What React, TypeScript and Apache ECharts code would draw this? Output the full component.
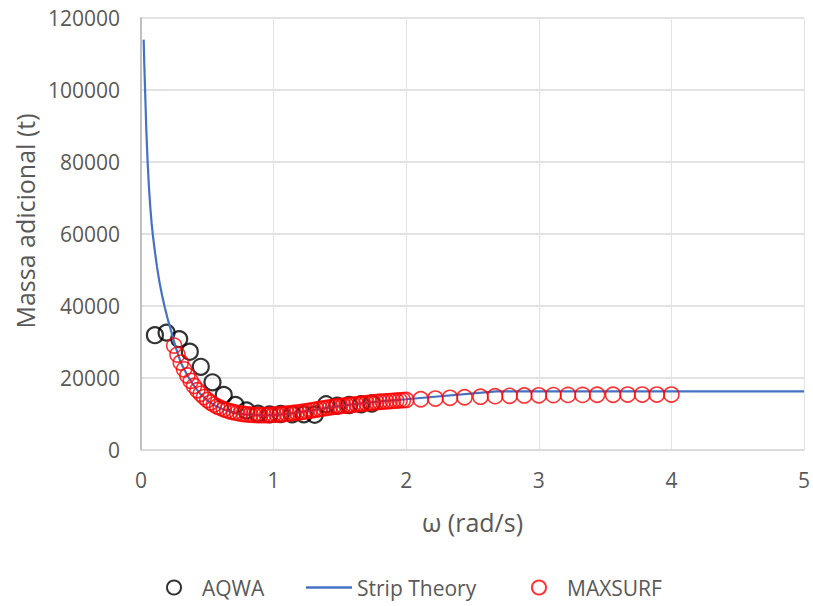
import React, { useEffect, useRef } from "react";
import * as echarts from "echarts";

const aqwaX = [0.105, 0.193, 0.288, 0.368, 0.451, 0.539, 0.624, 0.712, 0.795, 0.882, 0.97, 1.053, 1.14, 1.228, 1.31, 1.396, 1.48, 1.57, 1.66, 1.74];
const aqwaY = [31900, 32600, 30800, 27300, 23100, 18800, 15300, 12500, 11000, 10100, 9900, 10000, 9900, 9900, 9800, 12700, 12300, 12500, 12700, 12900];

const stripX = [0.02, 0.025, 0.03, 0.04, 0.05, 0.06, 0.07, 0.08, 0.09, 0.1, 0.12, 0.14, 0.16, 0.18, 0.2, 0.22, 0.24, 0.26, 0.28, 0.3, 0.35, 0.4, 0.45, 0.5, 0.55, 0.6, 0.65, 0.7, 0.8, 0.9, 1.0, 1.1, 1.2, 1.3, 1.4, 1.5, 1.6, 1.7, 1.8, 1.9, 2.0, 2.68, 5.0];
const stripY = [114000, 107000, 101000, 89000, 80000, 73000, 67500, 63000, 59500, 56500, 51000, 46500, 42800, 39500, 36600, 34000, 31300, 28800, 26500, 24300, 20700, 17800, 15500, 13800, 12500, 11600, 10900, 10400, 9800, 9600, 9700, 10000, 10500, 11100, 11700, 12200, 12700, 13100, 13500, 13800, 14100, 16300, 16300];

const maxsurfX = [
  0.25, 0.275, 0.3, 0.325, 0.35, 0.375, 0.4, 0.425, 0.45, 0.475, 0.5, 0.525, 0.55, 0.575, 0.6, 0.625, 0.65, 0.675, 0.7, 0.725,
  0.75, 0.775, 0.8, 0.825, 0.85, 0.875, 0.9, 0.925, 0.95, 0.975, 1.0, 1.025, 1.05, 1.075, 1.1, 1.125, 1.15, 1.175, 1.2, 1.225,
  1.25, 1.275, 1.3, 1.325, 1.35, 1.375, 1.4, 1.425, 1.45, 1.475, 1.5, 1.525, 1.55, 1.575, 1.6, 1.625, 1.65, 1.675, 1.7, 1.725,
  1.75, 1.775, 1.8, 1.825, 1.85, 1.875, 1.9, 1.925, 1.95, 1.975, 2.0,
  2.11, 2.22, 2.33, 2.44, 2.56, 2.67, 2.78, 2.89, 3.0, 3.11, 3.22, 3.33, 3.44, 3.56, 3.67, 3.78, 3.89, 4.0,
];
const maxsurfY = [
  29000, 26500, 24300, 22400, 20700, 19200, 17800, 16600, 15600, 14700, 13900, 13200, 12600, 12100, 11700, 11300, 11000, 10700, 10500, 10300,
  10100, 10000, 9900, 9800, 9750, 9700, 9700, 9700, 9700, 9750, 9800, 9850, 9900, 10000, 10100, 10200, 10300, 10400, 10500, 10650,
  10800, 10950, 11100, 11250, 11400, 11550, 11700, 11850, 12000, 12100, 12200, 12300, 12400, 12500, 12600, 12700, 12800, 12900, 13000, 13100,
  13200, 13300, 13400, 13450, 13500, 13600, 13650, 13700, 13800, 13850, 13900,
  14100, 14300, 14500, 14650, 14800, 14950, 15050, 15150, 15200, 15250, 15300, 15300, 15350, 15350, 15400, 15400, 15400, 15400,
];

const xTicks = ["0", "1", "2", "3", "4", "5"];
const yTicks = ["0", "20000", "40000", "60000", "80000", "100000", "120000"];

const FONT = "Open Sans";
const GREY = "#595959";

export default function App() {
  const ref = useRef<HTMLDivElement>(null);
  useEffect(() => {
    document.body.style.margin = "0";
    document.body.style.overflow = "hidden";
    if (!ref.current) return;
    const chart = echarts.init(ref.current, undefined, { renderer: "svg" });
    const zip = (xs: number[], ys: number[]) => xs.map((x, i) => [x, ys[i]]);
    const legendCommon = {
      top: 575,
      itemWidth: 46,
      itemHeight: 14,
      padding: 2,
      textStyle: { fontFamily: FONT, fontSize: 21, color: GREY },
    };
    chart.setOption({
      animation: false,
      textStyle: { fontFamily: FONT },
      grid: { left: 141, right: 7, top: 18, bottom: 156, containLabel: false },
      xAxis: {
        type: "value",
        min: 0,
        max: 5,
        interval: 1,
        name: "ω (rad/s)",
        nameLocation: "middle",
        nameGap: 59,
        nameTextStyle: { fontFamily: FONT, fontSize: 25, color: GREY },
        axisLine: { show: true, onZero: false, lineStyle: { color: "#D9D9D9", width: 1.5 } },
        axisTick: { show: false },
        axisLabel: {
          margin: 19,
          fontFamily: FONT,
          fontSize: 21,
          color: GREY,
          formatter: (v: number) => xTicks[Math.round(v)] ?? String(v),
        },
        splitLine: { show: true, lineStyle: { color: "#E3E3E3", width: 1 } },
      },
      yAxis: {
        type: "value",
        min: 0,
        max: 120000,
        interval: 20000,
        name: "Massa adicional (t)",
        nameLocation: "middle",
        nameGap: 98,
        nameTextStyle: { fontFamily: FONT, fontSize: 25, color: GREY, padding: [0, 0, 0, 26] },
        axisLine: { show: true, onZero: false, lineStyle: { color: "#BFBFBF", width: 2 } },
        axisTick: { show: false },
        axisLabel: {
          margin: 21,
          fontFamily: FONT,
          fontSize: 21,
          color: GREY,
          formatter: (v: number) => yTicks[Math.round(v / 20000)] ?? String(v),
        },
        splitLine: { show: true, lineStyle: { color: "#D9D9D9", width: 1.5 } },
      },
      legend: [
        { ...legendCommon, left: 164, data: [{ name: "AQWA", icon: "circle" }] },
        {
          ...legendCommon,
          left: 304,
          itemHeight: 2.5,
          data: [{ name: "Strip Theory", icon: "rect", itemStyle: { color: "#4472C4" } }],
        },
        { ...legendCommon, left: 529, data: [{ name: "MAXSURF", icon: "circle" }] },
      ],
      series: [
        {
          name: "AQWA",
          type: "scatter",
          data: zip(aqwaX, aqwaY),
          symbol: "circle",
          symbolSize: 16,
          itemStyle: { color: "rgba(0,0,0,0)", borderColor: "#000000", borderWidth: 2.2 },
          z: 2,
        },
        {
          name: "Strip Theory",
          type: "line",
          data: zip(stripX, stripY),
          showSymbol: false,
          symbol: "none",
          smooth: false,
          lineStyle: { color: "#4472C4", width: 2.2 },
          itemStyle: { color: "#4472C4" },
          z: 3,
        },
        {
          name: "MAXSURF",
          type: "scatter",
          data: zip(maxsurfX, maxsurfY),
          symbol: "circle",
          symbolSize: 15,
          itemStyle: { color: "rgba(0,0,0,0)", borderColor: "#FF0000", borderWidth: 1.6 },
          z: 4,
        },
      ],
    });
    return () => chart.dispose();
  }, []);
  return <div ref={ref} style={{ width: 813, height: 606 }} />;
}
